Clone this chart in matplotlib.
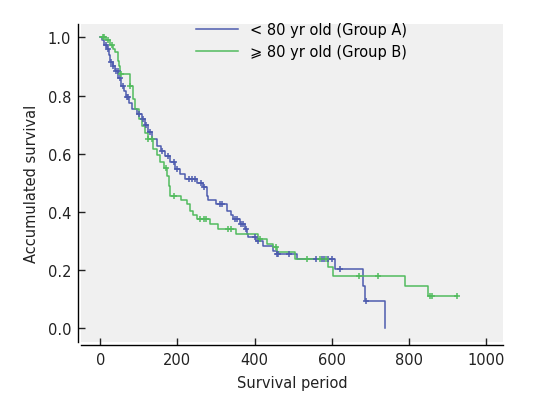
import numpy as np
import matplotlib.pyplot as plt

# Kaplan-Meier style step data
# Group A (< 80 yr)
time_a = [0, 4, 10, 17, 22, 25, 32, 38, 46, 55, 62, 68, 75, 81, 95, 107, 115, 124, 135, 146,
          157, 168, 180, 194, 207, 220, 250, 266, 276, 280, 300, 328, 340, 345, 362, 375, 380,
          383, 405, 422, 448, 457, 509, 609, 681, 686, 738]
surv_a = [1.0, 0.99, 0.975, 0.96, 0.94, 0.915, 0.90, 0.885, 0.86, 0.833, 0.815, 0.794, 0.775,
          0.753, 0.735, 0.72, 0.70, 0.674, 0.65, 0.627, 0.61, 0.593, 0.57, 0.548, 0.53, 0.513,
          0.50, 0.485, 0.455, 0.44, 0.427, 0.404, 0.39, 0.376, 0.358, 0.341, 0.325, 0.314,
          0.301, 0.284, 0.267, 0.255, 0.238, 0.204, 0.146, 0.095, 0.0]
cens_a = [15, 20, 28, 33, 40, 45, 50, 60, 70, 72, 100, 112, 118, 130, 160, 175, 190, 200, 230,
          238, 245, 262, 270, 310, 315, 350, 355, 365, 370, 378, 400, 410, 458, 462, 490, 560,
          575, 580, 590, 600, 621, 690]

# Group B (>= 80 yr)
time_b = [0, 6, 15, 25, 32, 38, 45, 48, 51, 77, 85, 90, 100, 107, 115, 124, 137, 146, 155, 164,
          172, 177, 181, 210, 224, 232, 240, 250, 284, 305, 353, 410, 431, 448, 457, 505, 591,
          604, 790, 850, 924]
surv_b = [1.0, 1.0, 0.99, 0.975, 0.96, 0.95, 0.92, 0.90, 0.874, 0.833, 0.788, 0.753, 0.72,
          0.696, 0.67, 0.65, 0.617, 0.595, 0.571, 0.55, 0.524, 0.49, 0.456, 0.44, 0.427, 0.404,
          0.39, 0.376, 0.358, 0.341, 0.324, 0.307, 0.29, 0.278, 0.261, 0.238, 0.21, 0.181,
          0.144, 0.11, 0.11]
cens_b = [6, 10, 20, 30, 55, 78, 125, 135, 170, 190, 258, 270, 275, 330, 340, 415, 455, 535,
          570, 585, 670, 720, 855, 860, 924]

labels = ['< 80 yr old (Group A)', '\u2a7e 80 yr old (Group B)']
blue = '#4e5cae'
green = '#52bb5e'

plt.rcParams['font.family'] = ['DejaVu Sans', 'Noto Sans', 'Noto Sans CJK SC']

fig = plt.figure(figsize=(5.42, 4.14), dpi=100)
ax = fig.add_axes([0.1494, 0.1715, 0.7786, 0.7681])
ax.set_facecolor('#f0f0f0')


def censor_y(times, surv, cens):
    idx = np.searchsorted(times, cens, side='right') - 1
    return np.array(surv)[idx]


ax.step(time_a, surv_a, where='post', color=blue, lw=1.1, label=labels[0])
ax.step(time_b, surv_b, where='post', color=green, lw=1.1, label=labels[1])
ax.plot(cens_a, censor_y(time_a, surv_a, cens_a), '+', color=blue, ms=4, mew=1.1)
ax.plot(cens_b, censor_y(time_b, surv_b, cens_b), '+', color=green, ms=4, mew=1.1)

ax.set_xlim(-50, 1044)
ax.set_ylim(-0.047, 1.046)
ax.set_xticks([0, 200, 400, 600, 800, 1000])
ax.set_yticks([0.0, 0.2, 0.4, 0.6, 0.8, 1.0])
ax.yaxis.set_major_formatter(plt.FormatStrFormatter('%.1f'))

for s in ['top', 'right']:
    ax.spines[s].set_visible(False)
for s in ['left', 'bottom']:
    ax.spines[s].set_position(('outward', 2))
    ax.spines[s].set_linewidth(1.0)
ax.tick_params(direction='in', length=5, width=1, labelsize=10.5, pad=5, colors='#222222')

ax.set_xlabel('Survival period', fontsize=10.5, labelpad=6, color='#222222')
ax.set_ylabel('Accumulated survival', fontsize=10.5, labelpad=6, color='#222222')

ax.legend(loc='upper left', bbox_to_anchor=(0.2725, 1.005), frameon=False, fontsize=10.5,
          borderpad=0, borderaxespad=0, handlelength=2.9, handletextpad=0.8, labelspacing=0.45)

fig.savefig('out.png', dpi=100)
